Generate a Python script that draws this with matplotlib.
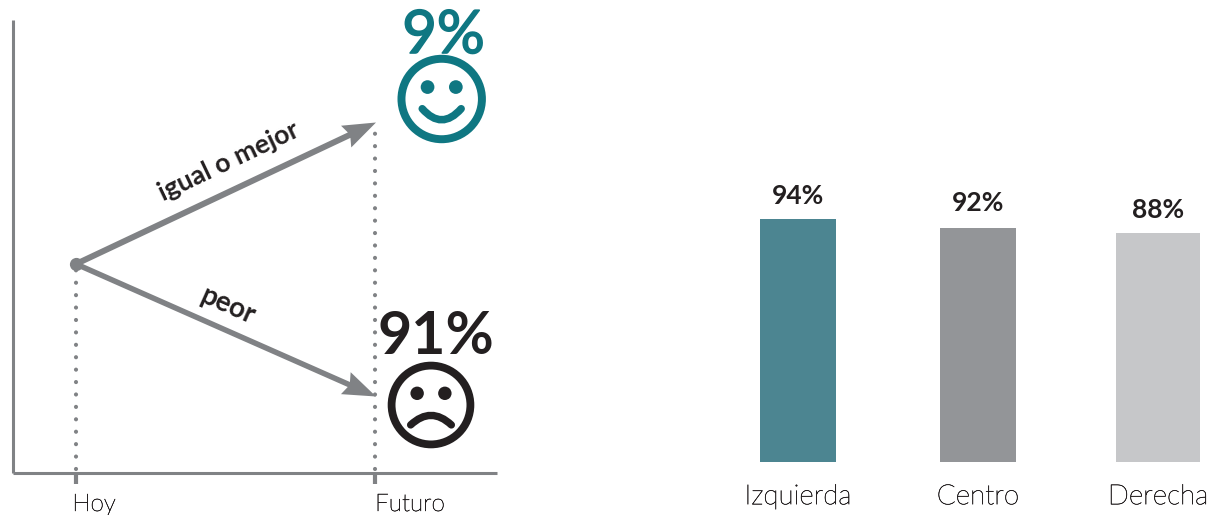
# Expectativas a futuro: flechas hoy -> futuro y barras por ideologia
import matplotlib
matplotlib.use('Agg')
import matplotlib.pyplot as plt
import matplotlib.patheffects as pe
from matplotlib.patches import Circle, PathPatch
from matplotlib.path import Path

plt.rcParams['font.family'] = ['Lato', 'DejaVu Sans']

# left panel data
time_labels = ['Hoy', 'Futuro']
time_x = [63.5, 362.5]
level_today = 208.5
level_better = 350
level_worse = 76
share_better = '9%'
share_worse = '91%'

# right panel data
categories = ['Izquierda', 'Centro', 'Derecha']
share_labels = ['94%', '92%', '88%']
# bar heights as drawn in the picture, they are not quite proportional to the labels
bar_heights = [94, 90.5, 88.6]

TEAL = '#0F7782'
DARK = '#231F20'
GREY = '#808285'
LABEL = '#231F20'
bar_colors = ['#4C8591', '#939598', '#C6C7C9']
bar_widths = [0.422, 0.422, 0.467]
label_offsets = [11, 12, 11]

W, H = 1211, 515
fig = plt.figure(figsize=(W / 100, H / 100), dpi=100)
light_stroke = [pe.withStroke(linewidth=0.35, foreground=LABEL)]


def px_axes(left, right, top, bottom):
    return fig.add_axes([left / W, 1 - bottom / H, (right - left) / W, (bottom - top) / H])


def draw_face(ax, cx, cy, r, color, sad=False):
    stroke = r * 0.18
    lw = stroke * 0.72
    ax.add_patch(Circle((cx, cy), r - stroke / 2, fill=False, ec=color, lw=lw))
    for side in (-1, 1):
        ax.add_patch(Circle((cx + side * r * 0.32, cy + r * 0.27), r * 0.155, fc=color, ec='none'))
    if sad:
        verts = [(cx - r * 0.47, cy - r * 0.46), (cx, cy - r * 0.02), (cx + r * 0.47, cy - r * 0.46)]
    else:
        verts = [(cx - r * 0.44, cy - r * 0.22), (cx, cy - r * 0.72), (cx + r * 0.44, cy - r * 0.22)]
    path = Path(verts, [Path.MOVETO, Path.CURVE3, Path.CURVE3])
    ax.add_patch(PathPatch(path, fill=False, ec=color, lw=lw * 0.95, capstyle='round'))


# left panel, one data unit is one pixel
ax = px_axes(12.5, 497, 20, 472.5)
ax.set_xlim(0, 484.5)
ax.set_ylim(0, 452.5)
ax.patch.set_alpha(0)
for s in ['top', 'right']:
    ax.spines[s].set_visible(False)
for s in ['left', 'bottom']:
    ax.spines[s].set_color(GREY)
    ax.spines[s].set_linewidth(2.2)
    ax.spines[s].set_capstyle('butt')
ax.set_yticks([])
ax.set_xticks(time_x)
ax.set_xticklabels([])
ax.tick_params(axis='x', length=8, width=3, color=GREY)

# dotted guides
for x, top in zip(time_x, [level_today, level_better]):
    ax.plot([x, x], [4, top], color=GREY, lw=3, dashes=(0.01, 2.97),
            dash_capstyle='round', zorder=1)

# arrows
arrow_ends = [level_better, level_worse]
arrow_widths = [6, 5.5]
for end, shaft in zip(arrow_ends, arrow_widths):
    ax.arrow(time_x[0], level_today, time_x[1] - time_x[0] + 1, end - level_today,
             width=shaft, head_width=24, head_length=33, overhang=0.1,
             length_includes_head=True, fc=GREY, ec='none', zorder=3)
ax.plot(time_x[0], level_today, 'o', ms=9.5, color=GREY, mec='none', zorder=4)

ax.text(216.5, 311, 'igual o mejor', rotation=25.5, ha='center', va='center',
        fontsize=19.2, fontweight='bold', color=DARK, rotation_mode='anchor')
ax.text(215.5, 167, 'peor', rotation=-24, ha='center', va='center',
        fontsize=20, fontweight='bold', color=DARK, rotation_mode='anchor')

t = ax.text(431, 419.5, share_better, ha='center', va='baseline', fontsize=43,
            color=TEAL)
t.set_path_effects([pe.withStroke(linewidth=1.2, foreground=TEAL)])
ax.text(423, 118.5, share_worse, ha='center', va='baseline', fontsize=42.5,
        fontweight='bold', color=DARK)

draw_face(ax, 429.2, 373.5, 44.2, TEAL)
draw_face(ax, 418.5, 67.5, 43.3, DARK, sad=True)

for label, x, shift in zip(time_labels, time_x, [18, 35]):
    ax.text(x + shift, -38.5, label, ha='center', va='baseline', fontsize=17.5,
            fontweight='light', color=LABEL, path_effects=light_stroke)

# right panel
ax2 = px_axes(708, 1208, 170, 462)
ax2.set_xlim(-0.5, 2.278)
ax2.set_ylim(0, 113)
ax2.patch.set_alpha(0)
for s in ax2.spines.values():
    s.set_visible(False)
ax2.set_yticks([])
ax2.bar(range(len(categories)), bar_heights, width=bar_widths, color=bar_colors)
for i, h in enumerate(bar_heights):
    ax2.annotate(share_labels[i], (i, h), xytext=(0, label_offsets[i]), textcoords='offset points',
                 ha='center', va='baseline', fontsize=19, fontweight='bold', color=DARK)
ax2.set_xticks(range(len(categories)))
ax2.set_xticklabels(categories, fontsize=20, fontweight='light', color=LABEL,
                    path_effects=light_stroke)
ax2.tick_params(axis='x', length=0, pad=16)

fig.savefig('out.png', dpi=100)
